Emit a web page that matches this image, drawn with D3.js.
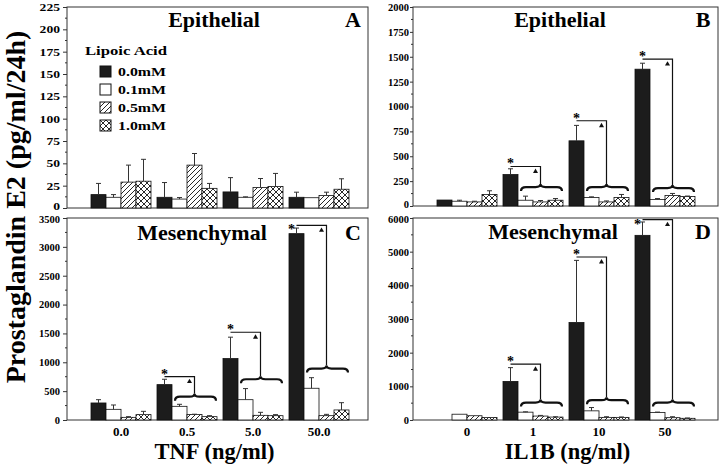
<!DOCTYPE html>
<html><head><meta charset="utf-8">
<script src="https://cdn.jsdelivr.net/npm/d3@7"></script>
<style>
body{margin:0;background:#fff}
svg{display:block}
text{font-family:"Liberation Serif","Times New Roman",serif;font-weight:bold;fill:#000}
</style>
</head><body>
<svg id="c" width="720" height="468"></svg>
<script>
// ---------- DATA ----------
const series = ["0.0mM","0.1mM","0.5mM","1.0mM"];
const tnfLevels = ["0.0","0.5","5.0","50.0"];
const il1bLevels = ["0","1","10","50"];
// mean [group][series] and top of error bar [group][series]
const epiTnfMean  = [[15,12,29,30],[12,10,48,22],[18,12,23,24],[12,11.5,14,21]];
const epiTnfErr   = [[27.5,15,48,54.5],[28.5,11.7,61,27.5],[34,12.5,33,38.7],[17.7,11.5,17.7,32.7]];
const epiIl1bMean = [[60,48,41,116],[316,58,41,58],[655,85,41,85],[1375,65,106,95]];
const epiIl1bErr  = [[60,58,48,153],[374,99,55,75],[810,92,51,116],[1435,75,126,100]];
const mesTnfMean  = [[295,185,46,93],[613,237,95,58],[1064,352,81,75],[3229,550,75,174]];
const mesTnfErr   = [[352,260,58,150],[706,272,100,75],[1435,544,133,93],[3326,733,98,300]];
const mesIl1bMean = [[0,172,127,75],[1146,233,117,87],[2896,272,78,78],[5485,224,69,50]];
const mesIl1bErr  = [[0,172,127,75],[1555,243,136,95],[4741,370,97,90],[5882,235,97,60]];
// significance bracket levels (data units): horizontal line and brace
const epiIl1bLine  = [null,397,857,1476];
const epiIl1bBrace = [null,150,150,140];
const mesTnfLine   = [null,752,1520,3373];
const mesTnfBrace  = [null,335,637,821];
const mesIl1bLine  = [null,1658,4842,5952];
const mesIl1bBrace = [null,400,470,400];
// y tick values
const yTicksA = d3.range(0,226,25);
const yTicksB = d3.range(0,2001,250);
const yTicksC = d3.range(0,3501,500);
const yTicksD = d3.range(0,6001,1000);

// ---------- DRAW ----------
const svg = d3.select("#c");
const defs = svg.append("defs");
const ph = defs.append("pattern").attr("id","hatch").attr("patternUnits","userSpaceOnUse").attr("width",5).attr("height",5);
ph.append("rect").attr("width",5).attr("height",5).attr("fill","#fff");
ph.append("path").attr("d","M-1,1L1,-1M0,5L5,0M4,6L6,4").attr("stroke","#111").attr("stroke-width",0.9);
const pc = defs.append("pattern").attr("id","cross").attr("patternUnits","userSpaceOnUse").attr("width",6).attr("height",6);
pc.append("rect").attr("width",6).attr("height",6).attr("fill","#fff");
pc.append("path").attr("d","M0,0L6,6M6,0L0,6").attr("stroke","#111").attr("stroke-width",0.9);
const fills = ["#1c1c1c","#fff","url(#hatch)","url(#cross)"];

const panels = [
 {letter:"A",title:"Epithelial",left:67,right:368,top:7,bottom:208,ticks:yTicksA,levels:tnfLevels,mean:epiTnfMean,err:epiTnfErr,tick:4,pad:3,stretch:true,titleDx:147,titleY:27,legend:true,nudge:"bottom"},
 {letter:"B",title:"Epithelial",left:413,right:718,top:7,bottom:206,ticks:yTicksB,levels:il1bLevels,mean:epiIl1bMean,err:epiIl1bErr,tick:3,pad:1,titleDx:147,titleY:27,line:epiIl1bLine,brace:epiIl1bBrace,nudge:"bottom"},
 {letter:"C",title:"Mesenchymal",left:67,right:368,top:218,bottom:420,ticks:yTicksC,levels:tnfLevels,mean:mesTnfMean,err:mesTnfErr,tick:4,pad:3,titleDx:135,titleY:240,showX:true,xTitle:"TNF (ng/ml)",line:mesTnfLine,brace:mesTnfBrace,nudge:"top"},
 {letter:"D",title:"Mesenchymal",left:413,right:718,top:218,bottom:420,ticks:yTicksD,levels:il1bLevels,mean:mesIl1bMean,err:mesIl1bErr,tick:3,pad:1,titleDx:140,titleY:239,showX:true,xTitle:"IL1B (ng/ml)",line:mesIl1bLine,brace:mesIl1bBrace,nudge:"top"}
];

panels.forEach(p=>{
  const g = svg.append("g");
  const ymax = p.ticks[p.ticks.length-1];
  const step = p.ticks[1]-p.ticks[0];
  const y = d3.scaleLinear().domain([0,ymax]).range([p.bottom,p.top]);
  const x = d3.scaleBand().domain(p.levels).range([p.left+24,p.left+24+4*66-6]).paddingInner(6/66).paddingOuter(0);
  const xs = d3.scaleBand().domain(series).range([0,x.bandwidth()]);
  const bw = xs.bandwidth();

  // frame
  g.append("rect").attr("x",p.left).attr("y",p.top).attr("width",p.right-p.left).attr("height",p.bottom-p.top)
    .attr("fill","none").attr("stroke","#333").attr("stroke-width",1);

  // y axis
  const ga = g.append("g").attr("transform",`translate(${p.left},0)`)
    .call(d3.axisLeft(y).tickValues(p.ticks).tickFormat(d3.format("d")).tickSize(p.tick).tickPadding(p.pad).tickSizeOuter(0));
  ga.select(".domain").remove();
  ga.selectAll("line").attr("stroke","#333");
  ga.selectAll("text").attr("font-size",10.5).attr("font-family","Liberation Serif").attr("font-weight","bold").attr("fill","#000");
  if(p.stretch){
    ga.selectAll("text").attr("textLength",d=>String(d).length*6.8).attr("lengthAdjust","spacingAndGlyphs");
  }
  // keep the adjoining labels of stacked panels apart
  ga.selectAll("text").filter(d=>p.nudge==="bottom"?d===0:d===ymax)
    .attr("dy",p.nudge==="bottom"?"0.15em":"0.45em");

  // minor ticks
  g.selectAll(".minor").data(d3.range(step/2,ymax,step)).join("line")
    .attr("x1",p.left-2).attr("x2",p.left).attr("y1",d=>y(d)).attr("y2",d=>y(d)).attr("stroke","#333");

  // x axis labels
  if(p.showX){
    const gx = g.append("g").attr("transform",`translate(0,${p.bottom})`)
      .call(d3.axisBottom(x).tickSize(0).tickPadding(7));
    gx.select(".domain").remove();
    gx.selectAll("text").attr("font-size",13).attr("font-family","Liberation Serif").attr("font-weight","bold").attr("fill","#000");
    g.append("text").attr("x",(p.left+p.right)/2+(p.letter==="C"?-3:2)).attr("y",459).attr("text-anchor","middle")
      .attr("font-size",22.5).text(p.xTitle);
  }

  // bars
  const data = p.levels.flatMap((lv,i)=>series.map((s,j)=>({lv,s,j,v:p.mean[i][j],e:p.err[i][j]})));
  g.selectAll(".bar").data(data.filter(d=>d.v>0)).join("rect")
    .attr("x",d=>x(d.lv)+xs(d.s)).attr("width",bw)
    .attr("y",d=>y(d.v)).attr("height",d=>y(0)-y(d.v))
    .attr("fill",d=>fills[d.j]).attr("stroke","#111").attr("stroke-width",0.8);
  // error bars
  const eb = data.filter(d=>d.e>d.v);
  g.selectAll(".eb").data(eb).join("path")
    .attr("d",d=>{const cx=x(d.lv)+xs(d.s)+bw/2;return `M${cx},${y(d.v)}V${y(d.e)}M${cx-2.5},${y(d.e)}H${cx+2.5}`;})
    .attr("stroke","#333").attr("stroke-width",1).attr("fill","none");

  // significance brackets
  if(p.line){
    p.levels.forEach((lv,i)=>{
      if(p.line[i]==null) return;
      const gx0 = x(lv);
      const bx = gx0+xs(series[0])+bw/2;
      const wl = gx0+xs(series[1]), cr = gx0+xs(series[3])+bw;
      const xm = (wl+cr)/2, x0 = wl+3, x1 = cr-1;
      const ly = y(p.line[i]), yEnd = y(p.brace[i]), yt = yEnd-7, ym = yEnd-4;
      g.append("path").attr("d",`M${bx},${ly}H${xm}V${yt}`).attr("stroke","#111").attr("stroke-width",1.2).attr("fill","none");
      g.append("path").attr("d",`M${x0},${yEnd}Q${x0},${ym} ${x0+5},${ym}L${xm-5},${ym}Q${xm},${ym} ${xm},${yt}Q${xm},${ym} ${xm+5},${ym}L${x1-5},${ym}Q${x1},${ym} ${x1},${yEnd}`)
        .attr("stroke","#111").attr("stroke-width",2.2).attr("fill","none");
      g.append("path").attr("d",d3.symbol(d3.symbolTriangle).size(11)()).attr("transform",`translate(${xm-5},${ly+5})`).attr("fill","#111");
      const nearTop = ly-10 < p.top;
      g.append("text").attr("x",nearTop?bx-5:bx).attr("y",nearTop?ly+9:ly+2).attr("text-anchor","middle")
        .attr("font-size",14).attr("font-weight","normal").text("*");
    });
  }

  // titles
  g.append("text").attr("x",p.left+p.titleDx).attr("y",p.titleY).attr("text-anchor","middle").attr("font-size",22).text(p.title);
  g.append("text").attr("x",p.right-15).attr("y",p.titleY).attr("text-anchor","middle").attr("font-size",22).text(p.letter);

  // legend
  if(p.legend){
    g.append("text").attr("x",85).attr("y",55).attr("font-size",13).attr("textLength",82).attr("lengthAdjust","spacingAndGlyphs").text("Lipoic Acid");
    const lg = g.selectAll(".lg").data(series).join("g").attr("transform",(d,i)=>`translate(100,${66+i*18})`);
    lg.append("rect").attr("width",11).attr("height",11).attr("fill",(d,i)=>fills[i]).attr("stroke","#111").attr("stroke-width",1);
    lg.append("text").attr("x",18).attr("y",10).attr("font-size",12.5).attr("textLength",48).attr("lengthAdjust","spacingAndGlyphs").text(d=>d);
  }
});

// shared y-axis title
svg.append("text").attr("transform","translate(15,207) rotate(-90)").attr("text-anchor","middle")
  .attr("dominant-baseline","central").attr("font-size",28).text("Prostaglandin E2 (pg/ml/24h)");
</script>
</body></html>
